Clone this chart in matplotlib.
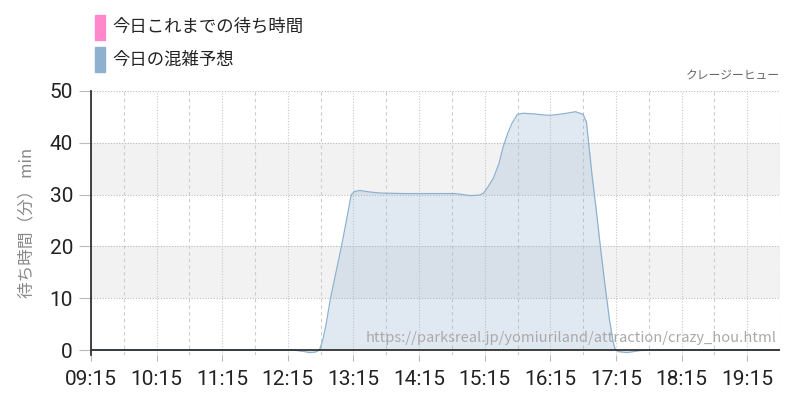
import matplotlib.pyplot as plt
from matplotlib.patches import Rectangle

plt.rcParams['font.family'] = ['Noto Sans CJK JP', 'DejaVu Sans']

# 予想カーブ (時刻, 待ち時間[分])
pred_times = ["09:15", "10:00", "11:00", "12:00", "12:20", "12:30", "12:35", "12:40",
              "12:44", "12:47", "12:50", "12:54", "12:59", "13:04", "13:09", "13:13",
              "13:16", "13:21", "13:30", "13:40", "14:00", "14:30", "14:48", "14:55",
              "15:02", "15:10", "15:14", "15:18", "15:23", "15:28", "15:32", "15:36",
              "15:40", "15:45", "15:50", "15:59", "16:08", "16:15", "16:27", "16:38",
              "16:45", "16:48", "16:50", "16:53", "16:57", "17:01", "17:05", "17:09",
              "17:12", "17:14", "17:17", "17:25", "17:37", "17:50", "18:30", "19:45"]
pred_values = [0, 0, 0, 0, 0, -0.3, -0.5, -0.4,
               0, 2, 5, 10, 15, 20, 25.5, 30,
               30.6, 30.8, 30.5, 30.3, 30.2, 30.2, 30.2, 30.0,
               29.8, 29.9, 30.3, 31.5, 33.2, 36, 39.3, 41.8,
               43.8, 45.5, 45.7, 45.6, 45.4, 45.3, 45.6, 46.0,
               45.5, 44, 40, 34, 27, 19.5, 12.5, 6,
               2, 0.3, -0.3, -0.5, -0.1, 0, 0, 0]

# 今日これまでの待ち時間 (データなし)
actual_times = []
actual_values = []

tick_labels = ["09:15", "10:15", "11:15", "12:15", "13:15", "14:15",
               "15:15", "16:15", "17:15", "18:15", "19:15"]
y_ticks = [0, 10, 20, 30, 40, 50]

pink = '#ff88cc'
blue = '#8fb1d0'


def to_min(s):
    h, m = s.split(':')
    return int(h) * 60 + int(m) - (9 * 60 + 15)


px = [to_min(t) for t in pred_times]
ax_x = [to_min(t) for t in actual_times]

fig = plt.figure(figsize=(8, 4), dpi=100)
ax = fig.add_axes([0.11375, 0.112, 0.86125, 0.6605])

# bands
ax.axhspan(10, 20, color='#f2f2f2', zorder=0, lw=0)
ax.axhspan(30, 40, color='#f2f2f2', zorder=0, lw=0)

for y in [10, 20, 30, 40, 50]:
    ax.axhline(y, color='#bbbbbb', lw=0.8, ls=(0, (1, 1.5)), zorder=1)
for m in range(0, 631, 30):
    if m % 60 == 0:
        ax.axvline(m, color='#c8c8c8', lw=0.8, ls=(0, (1, 1.5)), zorder=1)
    else:
        ax.axvline(m, color='#cccccc', lw=0.8, ls=(0, (3, 3)), zorder=1)

ax.fill_between(px, pred_values, 0, color=blue, alpha=0.27, lw=0, zorder=2)
ax.plot(px, pred_values, color=blue, lw=0.9, zorder=3)
ax.plot(ax_x, actual_values, color=pink, lw=1.5, zorder=4)

ax.axhline(0, color='#222222', lw=1.2, zorder=5)

ax.set_xlim(0, 630)
ax.set_ylim(-1, 50)
ax.set_xticks([to_min(t) for t in tick_labels])
ax.set_xticklabels(tick_labels)
ax.set_yticks(y_ticks)

for s in ['top', 'right', 'bottom']:
    ax.spines[s].set_visible(False)
ax.spines['left'].set_color('#222222')
ax.spines['left'].set_linewidth(1.2)

num_font = ['Roboto', 'DejaVu Sans']
ax.tick_params(axis='both', colors='#bbbbbb', width=0.8, labelcolor='#222222',
               labelsize=15)
ax.tick_params(axis='y', length=9, pad=4)
ax.tick_params(axis='x', length=4, pad=7)
for lab in ax.get_xticklabels() + ax.get_yticklabels():
    lab.set_family(num_font)

ax.set_ylabel('待ち時間（分） min', color='#888888', fontsize=12, labelpad=10)

ax.text(1.0, 1.03, 'クレージーヒュー', transform=ax.transAxes, ha='right', va='bottom',
        color='#666666', fontsize=8.5)
ax.text(0.995, 0.04, 'https://parksreal.jp/yomiuriland/attraction/crazy_hou.html',
        transform=ax.transAxes, ha='right', va='bottom', color='#aaaaaa', fontsize=10.6,
        zorder=6)

# legend
fig.patches.append(Rectangle((95 / 800, 1 - 40 / 400), 10 / 800, 25 / 400,
                             transform=fig.transFigure, color=pink))
fig.patches.append(Rectangle((95 / 800, 1 - 72 / 400), 10 / 800, 25 / 400,
                             transform=fig.transFigure, color=blue))
fig.text(112 / 800, 1 - 27 / 400, '今日これまでの待ち時間', va='center', fontsize=12.5,
         color='#222222')
fig.text(112 / 800, 1 - 60 / 400, '今日の混雑予想', va='center', fontsize=12.5,
         color='#222222')

fig.savefig('out.png', dpi=100)
